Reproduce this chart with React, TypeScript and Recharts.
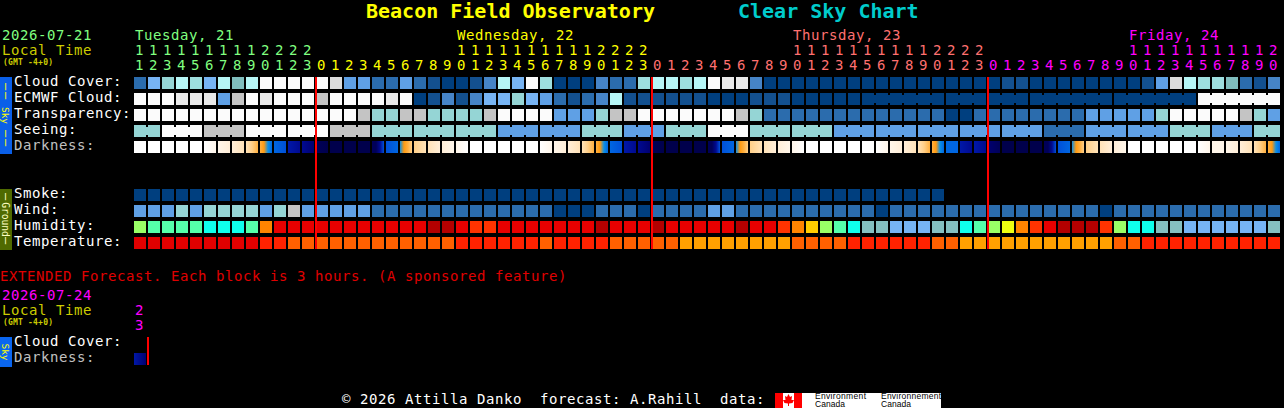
import { ReferenceLine, Scatter, ScatterChart, XAxis, YAxis } from "recharts";

const MONO = "'DejaVu Sans Mono', monospace";

// first column is 11:00 on Tuesday
const startHour = 11;
const columnCount = 82;
const midnights = [13, 37, 61];

const skyPalette = [
  "#003f7f", "#13508f", "#2b6cad", "#4684c7", "#5fa0e5", "#77b4f4", "#80bebe",
  "#95d5d5", "#9edfdf", "#b6f6f6", "#c4c4c4", "#dcdcdc", "#e9e9e9", "#fbfbfb",
];
const humidityPalette = [
  "#b30000", "#e80000", "#ff3300", "#ff8400", "#ffcc00", "#eeff11", "#99ff66",
  "#55ffaa", "#0fffec", "#85c0c0", "#76b4f4",
];
const temperaturePalette = ["#e00000", "#ff2200", "#ff6000", "#ffa000"];
const darknessPalette = [
  "#ffffff", "#fff6ea", "#ffeed8", "#ffe2b8", "#ffcf88", "#ffb040", "#ff9a10",
  "#0a90e8", "#0066e0", "#0050d8", "#0018a8", "#000a90", "#000070", "#000058",
  "#00004c",
];

const cloudCover = [
  2, 5, 7, 9, 8, 5, 9, 6, 9, 13, 13, 13, 13, 13, 11, 4, 4, 2, 2, 4, 2, 1, 0, 0,
  1, 3, 9, 5, 13, 8, 0, 0, 0, 3, 2, 2, 8, 9, 9, 8, 9, 13, 12, 12, 3, 0, 0, 0, 0,
  0, 0, 0, 0, 0, 0, 0, 0, 0, 0, 0, 0, 0, 1, 1, 0, 0, 0, 0, 0, 0, 0, 0, 1, 4, 11,
  9, 8, 8, 6, 2, 1, 3,
];
const ecmwfCloud = [
  13, 13, 13, 12, 12, 12, 4, 10, 13, 12, 13, 13, 13, 10, 13, 13, 13, 13, 12, 13,
  0, 1, 3, 1, 3, 5, 5, 7, 5, 4, 2, 1, 2, 3, 9, 1, 1, 1, 1, 1, 1, 0, 0, 0, 1, 1,
  1, 0, 0, 0, 0, 0, 0, 0, 0, 0, 0, 0, 0, 0, 0, 0, 0, 0, 0, 0, 0, 0, 0, 0, 0, 0,
  0, 0, 0, 0, 13, 13, 13, 13, 13, 13,
];
const ecmwfJoined = [[52, 57], [58, 60], [61, 63], [64, 69], [70, 75], [76, 81]];
const transparency = [
  13, 13, 13, 13, 13, 13, 13, 13, 13, 13, 13, 13, 13, 13, 13, 13, 10, 7, 7, 10,
  10, 7, 7, 7, 7, 10, 13, 13, 13, 13, 4, 4, 4, 7, 10, 10, 13, 13, 13, 13, 13, 13,
  13, 10, 7, 2, 2, 2, 2, 2, 2, 2, 2, 2, 2, 2, 2, 2, 0, 0, 2, 2, 2, 2, 2, 2, 2, 2,
  4, 4, 4, 4, 4, 7, 13, 13, 13, 13, 13, 10, 7, 4,
];
// seeing comes in 3 hour blocks: [value, columns]
const seeingBlocks = [
  [7, 2], [13, 3], [10, 3], [13, 3], [13, 3], [10, 3], [7, 3], [7, 3], [7, 3],
  [4, 3], [4, 3], [7, 3], [4, 3], [7, 3], [13, 3], [7, 3], [7, 3], [4, 3], [4, 3],
  [4, 3], [4, 3], [4, 3], [2, 3], [4, 3], [4, 3], [7, 3], [4, 3], [7, 2],
];
// each cell is a list of palette levels spread left to right
const darkness = [
  [0, 0], [0, 0], [0, 0], [0, 0], [0, 0], [0, 1], [1, 2], [2, 3], [3, 4, 5],
  [5, 6, 7, 8], [8, 9], [10, 11], [11, 12], [13, 14], [14, 14], [14, 14], [14, 14],
  [13, 13, 11, 9], [9, 8], [7, 6, 5, 4], [4, 3], [3, 2], [2, 1], [1, 0], [0, 0],
  [0, 0], [0, 0], [0, 0], [0, 0], [0, 1], [1, 2], [2, 3], [3, 4, 5], [5, 6, 7, 8],
  [8, 9], [10, 11], [11, 12], [13, 14], [14, 14], [14, 14], [14, 14],
  [13, 13, 11, 9], [9, 8], [7, 6, 5, 4], [4, 3], [3, 2], [2, 1], [1, 0], [0, 0],
  [0, 0], [0, 0], [0, 0], [0, 0], [0, 1], [1, 2], [2, 3], [3, 4, 5], [5, 6, 7, 8],
  [8, 8], [10, 11], [10, 11], [12, 13], [14, 14], [14, 14], [14, 14],
  [13, 13, 11, 9], [9, 8], [7, 6, 5, 4], [4, 3], [3, 2], [2, 1], [0, 0], [0, 0],
  [0, 0], [0, 0], [0, 0], [0, 1], [1, 1], [1, 2], [2, 3], [3, 4, 5], [5, 6, 7, 8],
];
const smoke = new Array(58).fill(0);
const wind = [
  4, 4, 4, 7, 4, 7, 7, 7, 7, 4, 7, 10, 4, 4, 4, 4, 4, 2, 2, 2, 2, 2, 2, 2, 2, 2,
  2, 2, 2, 2, 0, 0, 0, 2, 2, 2, 0, 2, 2, 2, 2, 4, 4, 2, 2, 2, 2, 2, 2, 2, 2, 2, 2,
  0, 2, 2, 2, 2, 2, 2, 2, 2, 2, 2, 2, 2, 2, 2, 2, 0, 2, 2, 2, 2, 2, 2, 2, 2, 2, 2,
  2, 2,
];
const humidity = [
  6, 7, 7, 7, 7, 8, 8, 8, 7, 3, 1, 1, 1, 1, 1, 1, 1, 1, 1, 1, 1, 0, 0, 1, 2, 2, 1,
  1, 1, 1, 1, 1, 1, 0, 1, 1, 1, 0, 1, 1, 1, 1, 1, 0, 1, 1, 2, 3, 4, 6, 7, 8, 9, 9,
  10, 10, 10, 9, 9, 8, 7, 6, 5, 3, 2, 1, 0, 0, 0, 2, 6, 8, 8, 9, 9, 10, 10, 10, 10,
  10, 10, 9,
];
const temperature = [
  0, 0, 0, 0, 0, 0, 0, 0, 0, 1, 1, 2, 2, 2, 2, 2, 2, 2, 2, 2, 2, 2, 2, 1, 1, 1, 1,
  1, 1, 2, 1, 1, 1, 1, 2, 2, 2, 2, 2, 3, 3, 3, 3, 3, 3, 3, 3, 2, 2, 2, 2, 1, 1, 1,
  1, 1, 1, 2, 2, 3, 3, 3, 3, 3, 3, 3, 3, 3, 3, 3, 2, 2, 1, 1, 1, 1, 1, 1, 1, 1, 1,
  1,
];

const rowLabels: Record<number, string> = {
  0: "Cloud Cover:",
  1: "ECMWF Cloud:",
  2: "Transparency:",
  3: "Seeing:",
  4: "Darkness:",
  7: "Smoke:",
  8: "Wind:",
  9: "Humidity:",
  10: "Temperature:",
  16.25: "Cloud Cover:",
  17.25: "Darkness:",
};
const rowTicks = [0, 1, 2, 3, 4, 7, 8, 9, 10, 16.25, 17.25];
const columnTicks = Array.from({ length: columnCount }, (_, i) => i);

const days = [
  { first: 0, label: "Tuesday, 21", labelCol: 0, color: "#80ff80" },
  { first: 13, label: "Wednesday, 22", labelCol: 23, color: "#ffff00" },
  { first: 37, label: "Thursday, 23", labelCol: 47, color: "#ff7070" },
  { first: 61, label: "Friday, 24", labelCol: 71, color: "#ff00ff" },
];

type CellRow = { col: number; row: number; fill?: string; stops?: string[]; join?: boolean };

const levelCells = (values: number[], row: number, palette: string[], joins: (c: number) => boolean = () => false): CellRow[] =>
  values.map((v, col) => ({ col, row, fill: palette[v], join: joins(col) }));

const seeing: number[] = [];
const seeingJoins: boolean[] = [];
seeingBlocks.forEach(([value, length]) => {
  for (let i = 0; i < length; i++) {
    seeing.push(value);
    seeingJoins.push(i < length - 1);
  }
});

const cloudCells = levelCells(cloudCover, 0, skyPalette);
const ecmwfCells = levelCells(ecmwfCloud, 1, skyPalette, (c) => ecmwfJoined.some(([a, b]) => c >= a && c < b));
const transparencyCells = levelCells(transparency, 2, skyPalette);
const seeingCells = levelCells(seeing, 3, skyPalette, (c) => seeingJoins[c]);
const smokeCells = levelCells(smoke, 7, skyPalette);
const windCells = levelCells(wind, 8, skyPalette);
const humidityCells = levelCells(humidity, 9, humidityPalette);
const temperatureCells = levelCells(temperature, 10, temperaturePalette);
const darkCell = (levels: number[], col: number, row: number): CellRow => ({
  col,
  row,
  stops: levels.map((l) => darknessPalette[l]),
});
const darknessCells = darkness.map((levels, col) => darkCell(levels, col, 4));
const extendedCells = [darkCell([10, 12], 0, 17.25)];

function Block(props: any) {
  const { cx, cy, payload } = props;
  const { col, row, fill, stops, join } = payload as CellRow;
  if (stops) {
    const id = `dark-${row}-${col}`.replace(".", "_");
    return (
      <g>
        <defs>
          <linearGradient id={id}>
            {stops.map((c, i) => (
              <stop key={i} offset={i / (stops.length - 1)} stopColor={c} />
            ))}
          </linearGradient>
        </defs>
        <rect x={cx} y={cy} width={12} height={12} fill={`url(#${id})`} />
      </g>
    );
  }
  return (
    <g>
      <rect x={cx} y={cy} width={12} height={12} fill={fill} />
      {join && <rect x={cx + 12} y={cy + 2} width={2} height={8} fill={fill} />}
    </g>
  );
}

const dayOf = (col: number) => [...days].reverse().find((d) => col >= d.first)!;

function Label({ x, y, size = 14, color, weight, spacing = 0.57, children }: any) {
  return (
    <text
      x={x}
      y={y}
      fontFamily={MONO}
      fontSize={size}
      fill={color}
      fontWeight={weight}
      letterSpacing={spacing}
      style={{ whiteSpace: "pre" }}
    >
      {children}
    </text>
  );
}

function HourTick(props: any) {
  const { x, payload } = props;
  const col = payload.value as number;
  const hour = (startHour + col) % 24;
  const day = dayOf(col);
  const labelled = days.find((d) => d.labelCol === col);
  return (
    <g>
      {labelled && (
        <Label x={x + 1} y={40} color={labelled.color}>
          {labelled.label}
        </Label>
      )}
      {hour >= 10 && (
        <Label x={x + 1} y={55} color={day.color}>
          {Math.floor(hour / 10)}
        </Label>
      )}
      <Label x={x + 1} y={70} color={day.color}>
        {hour % 10}
      </Label>
    </g>
  );
}

function RowTick(props: any) {
  const { y, payload } = props;
  const name = rowLabels[payload.value];
  return (
    <Label x={14} y={y + 9} color={name === "Darkness:" ? "#c0c0c0" : "#ffffff"}>
      {name}
    </Label>
  );
}

function SideBar({ y, height, fill, color, text, size, dash }: any) {
  const mid = y + height / 2;
  const along = (at: number) => `translate(2.2 ${at}) rotate(90)`;
  return (
    <g fontFamily={MONO} fill={color}>
      <rect x={0} y={y} width={12} height={height} fill={fill} />
      <text transform={along(mid)} textAnchor="middle" fontSize={size}>
        {text}
      </text>
      {dash && (
        <>
          <text transform={along(y + dash.inset)} textAnchor="start" fontSize={12} letterSpacing={1.8}>
            {dash.text}
          </text>
          <text transform={along(y + height - dash.inset)} textAnchor="end" fontSize={12} letterSpacing={1.8}>
            {dash.text}
          </text>
        </>
      )}
    </g>
  );
}

function Logo() {
  return (
    <g>
      <rect x={775} y={393} width={166} height={15} fill="#ffffff" />
      <rect x={775} y={393} width={8} height={15} fill="#ff0000" />
      <rect x={794} y={393} width={8} height={15} fill="#ff0000" />
      <polygon
        points="788.5,394 790,397 792,396 791.5,400 794,400 792.5,403 789,403.5 789,406 788,406 788,403.5 784.500,403 783,400 785.500,400 785,396 787,397"
        fill="#ff0000"
      />
      <g fontFamily="'Liberation Sans', sans-serif" fontSize={8.5} fill="#000000">
        <text x={815} y={399} textLength={51}>Environment</text>
        <text x={815} y={406.5} textLength={30}>Canada</text>
        <text x={881} y={399} textLength={60}>Environnement</text>
        <text x={881} y={406.5} textLength={30}>Canada</text>
      </g>
    </g>
  );
}

export default function App() {
  return (
    <div style={{ width: 1284, height: 408, background: "#000000", overflow: "hidden" }}>
      <style>{"body{margin:0;background:#000000}"}</style>
      <ScatterChart width={1284} height={408} margin={{ top: 76, right: 2, bottom: 43, left: 0 }}>
        <XAxis
          type="number"
          dataKey="col"
          orientation="top"
          domain={[0, columnCount]}
          ticks={columnTicks}
          interval={0}
          height={1}
          axisLine={false}
          tickLine={false}
          tick={<HourTick />}
        />
        <YAxis
          type="number"
          dataKey="row"
          domain={[0, 18]}
          reversed
          ticks={rowTicks}
          interval={0}
          width={134}
          axisLine={false}
          tickLine={false}
          tick={<RowTick />}
        />
        <Scatter data={cloudCells} shape={Block} isAnimationActive={false} />
        <Scatter data={ecmwfCells} shape={Block} isAnimationActive={false} />
        <Scatter data={transparencyCells} shape={Block} isAnimationActive={false} />
        <Scatter data={seeingCells} shape={Block} isAnimationActive={false} />
        <Scatter data={darknessCells} shape={Block} isAnimationActive={false} />
        <Scatter data={smokeCells} shape={Block} isAnimationActive={false} />
        <Scatter data={windCells} shape={Block} isAnimationActive={false} />
        <Scatter data={humidityCells} shape={Block} isAnimationActive={false} />
        <Scatter data={temperatureCells} shape={Block} isAnimationActive={false} />
        <Scatter data={extendedCells} shape={Block} isAnimationActive={false} />
        {midnights.map((m) => (
          <ReferenceLine
            key={m}
            segment={[{ x: m, y: 0 }, { x: m, y: 10.75 }]}
            stroke="#ff0000"
            strokeWidth={2}
            zIndex={1000}
          />
        ))}
        <ReferenceLine
          segment={[{ x: 1, y: 16.25 }, { x: 1, y: 18 }]}
          stroke="#ff0000"
          strokeWidth={2}
          zIndex={1000}
        />

        <Label x={366} y={18} size={20} color="#ffff00" weight="bold" spacing={0}>Beacon Field Observatory</Label>
        <Label x={738} y={18} size={20} color="#00cccc" weight="bold" spacing={0}>Clear Sky Chart</Label>
        <Label x={2} y={39.500} color="#80ff80">2026-07-21</Label>
        <Label x={2} y={54.500} color="#cccc00">Local Time</Label>
        <Label x={3} y={64.500} size={8} color="#cccc00" weight="bold" spacing={0.2}>(GMT -4+0)</Label>
        <SideBar y={77} height={77} fill="#0a5fe8" color="#ffff00" text="Sky" size={9.5} dash={{ text: "——", inset: 6 }} />
        <SideBar y={189} height={61} fill="#4f6a00" color="#ffffc0" text="Ground" size={9.600} dash={{ text: "—", inset: 4 }} />
        <Label x={0} y={280.500} color="#e00000">EXTENDED Forecast. Each block is 3 hours. (A sponsored feature)</Label>
        <Label x={2} y={299.500} color="#ff00ff">2026-07-24</Label>
        <Label x={2} y={314.500} color="#cccc00">Local Time</Label>
        <Label x={3} y={324.500} size={8} color="#cccc00" weight="bold" spacing={0.2}>(GMT -4+0)</Label>
        <Label x={135} y={315} color="#ff00ff">2</Label>
        <Label x={135} y={330} color="#ff00ff">3</Label>
        <SideBar y={337} height={30} fill="#0a66f0" color="#ffff00" text="Sky" size={9.5} />
        <Label x={342} y={404} color="#ffffff">© 2026 Attilla Danko  forecast: A.Rahill  data:</Label>
        <Logo />
      </ScatterChart>
    </div>
  );
}
